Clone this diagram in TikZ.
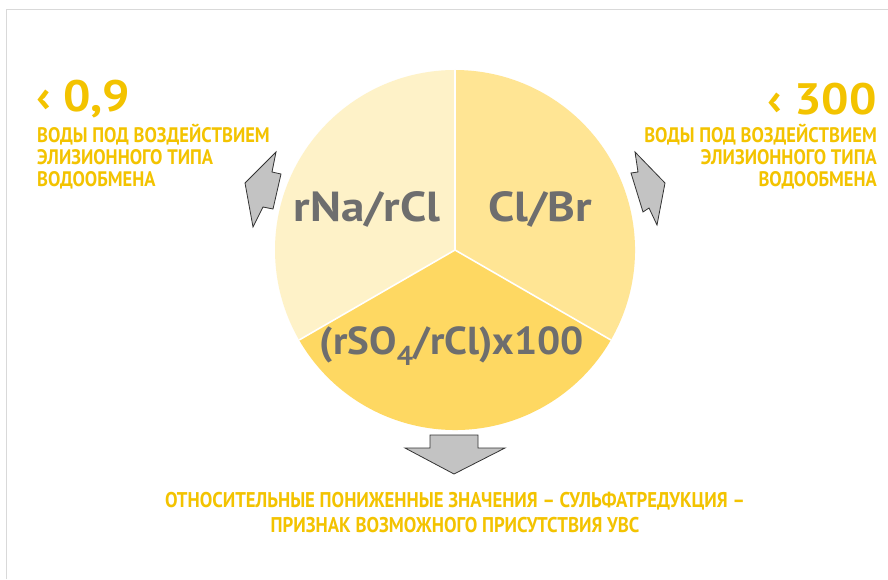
\documentclass[tikz,border=0pt]{standalone}
\usepackage{fontspec}
\setmainfont{PT Sans}
\newfontfamily\narrowsans[FakeStretch=0.88]{PT Sans}
\newfontfamily\widesans[FakeStretch=1.12]{PT Sans}
\newfontfamily\midsans[FakeStretch=1.05]{PT Sans}
\newfontfamily\numsans[FakeStretch=1.1]{PT Sans}
\definecolor{goldtxt}{HTML}{F3C300}
\definecolor{greytxt}{HTML}{6E6E6E}
\definecolor{pieA}{HTML}{FEF2C8}
\definecolor{pieB}{HTML}{FFE594}
\definecolor{pieC}{HTML}{FED862}
\definecolor{arrowgrey}{HTML}{C3C3C3}
\begin{document}
\begin{tikzpicture}[x=1pt,y=1pt,
    bignum/.style={text=goldtxt,font=\numsans\bfseries\fontsize{44}{44}\selectfont,inner sep=0pt},
    note/.style={text=goldtxt,font=\narrowsans\bfseries\fontsize{21}{22}\selectfont,inner sep=0pt},
    ratio/.style={text=greytxt,font=\widesans\bfseries\fontsize{42}{42}\selectfont,inner sep=0pt},
    arrowshape/.style={fill=arrowgrey,draw=black!80,line width=0.8pt,line join=miter}]
  \useasboundingbox (0,0) rectangle (888,579);
  \fill[white] (0,0) rectangle (888,579);
  \draw[black!15,line width=1.5pt] (6.5,0) -- (6.5,569.5) -- (888,569.5);
  % pie
  \coordinate (c) at (455,329);
  \fill[pieA] (c) -- ++(90:180) arc (90:210:180) -- cycle;
  \fill[pieB] (c) -- ++(-30:180) arc (-30:90:180) -- cycle;
  \fill[pieC] (c) -- ++(210:180) arc (210:330:180) -- cycle;
  \foreach \a in {90,210,330}{
    \draw[white,line width=1.6pt] (c) -- ++(\a:180);
  }
  \node[ratio] (ratioNa) at (367,370) {rNa/rCl};
  \node[ratio] (ratioCl) at (540,370) {Cl/Br};
  \node[ratio,font=\midsans\bfseries\fontsize{39}{39}\selectfont] (ratioSO) at (452,233)
    {(rSO\textsubscript{4}/rCl)x100};
  % arrows
  \draw[arrowshape] (276,427) -- (272,407) -- (281,405) -- (273,370) -- (263,372)
    -- (253,352) -- (245,396) -- cycle;
  \draw[arrowshape] (635,427) -- (638,407) -- (631,406) -- (643,367) -- (649,371)
    -- (657,354) -- (665,396) -- cycle;
  \draw[arrowshape] (430,144) -- (478,144) -- (478,131) -- (505,131) -- (454,105)
    -- (405,131) -- (430,131) -- cycle;
  % left / right notes
  \node[bignum,anchor=base west] (lowLeft) at (36,467) {‹ 0,9};
  \node[note,anchor=north west,align=left] (noteLeft) at (37,455)
    {ВОДЫ ПОД ВОЗДЕЙСТВИЕМ\\ЭЛИЗИОННОГО ТИПА\\ВОДООБМЕНА};
  \node[bignum,anchor=base east] (lowRight) at (877,464) {‹ 300};
  \node[note,anchor=north east,align=right] (noteRight) at (877,455)
    {ВОДЫ ПОД ВОЗДЕЙСТВИЕМ\\ЭЛИЗИОННОГО ТИПА\\ВОДООБМЕНА};
  % bottom note
  \node[note,align=center,font=\narrowsans\bfseries\fontsize{21.3}{25}\selectfont] (noteBottom) at (455,67)
    {ОТНОСИТЕЛЬНЫЕ ПОНИЖЕННЫЕ ЗНАЧЕНИЯ – СУЛЬФАТРЕДУКЦИЯ –\\ПРИЗНАК ВОЗМОЖНОГО ПРИСУТСТВИЯ УВС};
\end{tikzpicture}
\end{document}
